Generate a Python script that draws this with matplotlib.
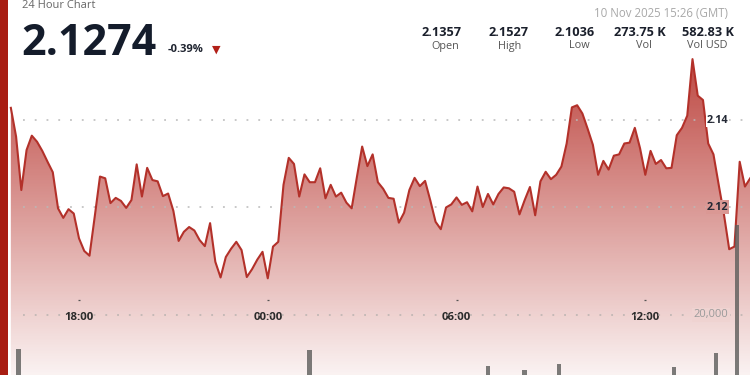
import matplotlib
matplotlib.use("Agg")
import matplotlib.pyplot as plt
import matplotlib.dates as mdates
import matplotlib.transforms as mtransforms
import numpy as np
import pandas as pd
from matplotlib.colors import LinearSegmentedColormap
from matplotlib.patches import Rectangle

plt.rcParams["font.family"] = ["Open Sans", "DejaVu Sans"]

# 10-minute closes, 9 Nov 15:50 -> 10 Nov 15:20 (GMT)
start = "2025-11-09 15:50"
prices = [
    2.1428, 2.1362, 2.1239, 2.1331, 2.1364, 2.1350, 2.1329, 2.1304, 2.1280, 2.1197,
    2.1175, 2.1195, 2.1185, 2.1128, 2.1099, 2.1088, 2.1178, 2.1270, 2.1266, 2.1209,
    2.1221, 2.1214, 2.1198, 2.1216, 2.1298, 2.1224, 2.1290, 2.1262, 2.1259, 2.1225,
    2.1231, 2.1191, 2.1122, 2.1143, 2.1154, 2.1146, 2.1124, 2.1110, 2.1163, 2.1074,
    2.1038, 2.1085, 2.1104, 2.1120, 2.1101, 2.1039, 2.1057, 2.1079, 2.1097, 2.1036,
    2.1109, 2.1120, 2.1251, 2.1313, 2.1299, 2.1224, 2.1275, 2.1257, 2.1257, 2.1289,
    2.1220, 2.1251, 2.1224, 2.1233, 2.1210, 2.1197, 2.1269, 2.1339, 2.1294, 2.1321,
    2.1257, 2.1242, 2.1221, 2.1219, 2.1164, 2.1187, 2.1239, 2.1267, 2.1248, 2.1260,
    2.1215, 2.1166, 2.1149, 2.1199, 2.1206, 2.1222, 2.1205, 2.1211, 2.1190, 2.1247,
    2.1200, 2.1230, 2.1206, 2.1230, 2.1245, 2.1243, 2.1235, 2.1183, 2.1216, 2.1246,
    2.1181, 2.1259, 2.1281, 2.1264, 2.1274, 2.1293, 2.1346, 2.1429, 2.1434, 2.1415,
    2.1380, 2.1343, 2.1274, 2.1306, 2.1286, 2.1318, 2.1321, 2.1346, 2.1348, 2.1382,
    2.1335, 2.1274, 2.1329, 2.1299, 2.1308, 2.1289, 2.1290, 2.1365, 2.1382, 2.1410,
    2.1540, 2.1456, 2.1446, 2.1346, 2.1321, 2.1251, 2.1183, 2.1103, 2.1109, 2.1304,
    2.1247, 2.1266,
]

vol_times = [
    "2025-11-09 16:05", "2025-11-10 01:20", "2025-11-10 07:00", "2025-11-10 08:10",
    "2025-11-10 09:15", "2025-11-10 12:55", "2025-11-10 14:15", "2025-11-10 14:55",
]
vol_values = [12000, 11800, 8000, 7000, 8500, 7700, 11000, 41200]

tick_times = ["2025-11-09 18:00", "2025-11-10 00:00", "2025-11-10 06:00", "2025-11-10 12:00"]
tick_labels = ["18:00", "00:00", "06:00", "12:00"]

price_ticks = [2.14, 2.12]
vol_tick = 20000

stats_values = ["2.1357", "2.1527", "2.1036", "273.75 K", "582.83 K"]
stats_labels = ["Open", "High", "Low", "Vol", "Vol USD"]

last_price = "2.1274"
change = "-0.39%"
stamp = "10 Nov 2025 15:26 (GMT)"

times = pd.date_range(start, periods=len(prices), freq="10min")
t = mdates.date2num(times.to_pydatetime())
vt = mdates.date2num(pd.to_datetime(vol_times).to_pydatetime())
tt = mdates.date2num(pd.to_datetime(tick_times).to_pydatetime())

line_red = "#b3312a"

fig = plt.figure(figsize=(7.5, 3.75), dpi=100)
fig.patch.set_facecolor("white")

ax = fig.add_axes([0, 0, 1, 1])
ax.set_facecolor("none")
x0 = mdates.date2num(pd.Timestamp("2025-11-09 15:29:20"))
x1 = mdates.date2num(pd.Timestamp("2025-11-10 15:19:40"))
ax.set_xlim(x0, x1)
ymin, ymax = 2.08138, 2.16759
ax.set_ylim(ymin, ymax)
ax.axis("off")

# gradient fill under the price line
fill = ax.fill_between(t, prices, ymin - 0.01, facecolor="none", edgecolor="none")
cmap = LinearSegmentedColormap.from_list(
    "fade", [(0.70, 0.16, 0.13, 0.06), (0.70, 0.16, 0.13, 0.85)]
)
grad = np.linspace(0, 1, 256).reshape(-1, 1)
img = ax.imshow(grad, cmap=cmap, origin="lower", aspect="auto",
                extent=[x0, x1, ymin, 2.154], zorder=1)
img.set_clip_path(fill.get_paths()[0], transform=ax.transData)
ax.set_xlim(x0, x1)
ax.set_ylim(ymin, ymax)

# volume on its own scale
axv = fig.add_axes([0, 0, 1, 1], sharex=ax)
axv.set_facecolor("none")
axv.axis("off")
axv.set_ylim(5882, 94118)
axv.bar(vt, vol_values, width=8.5 / 1440, color="#5c5c5a", alpha=0.8, zorder=2)
axv.axhline(vol_tick, xmin=0.03, color="#b9b2b0", lw=1.1,
            linestyle=(0, (1.2, 6.5)), zorder=1)
axv.text(0.971, vol_tick, f"{vol_tick:,}", transform=axv.get_yaxis_transform(),
         ha="right", va="center", fontsize=8, color="#9a9a9a",
         bbox=dict(boxstyle="square,pad=0.15", facecolor="#efd3d1", edgecolor="none"))

# price grid + labels
label_bg = ["white", "#da9894"]
for p, bg in zip(price_ticks, label_bg):
    ax.axhline(p, xmin=0.03, color="#b9b9b9", lw=1.1,
               linestyle=(0, (1.2, 6.5)), zorder=3)
    ax.text(0.971, p, f"{p:.2f}", transform=ax.get_yaxis_transform(),
            ha="right", va="center", fontsize=7.8, fontweight="bold",
            color="#232834", zorder=6,
            bbox=dict(boxstyle="square,pad=0.1", facecolor=bg, edgecolor="none"))

ax.plot(t, prices, color=line_red, lw=1.5, zorder=5, solid_joinstyle="round")

# time axis labels
trans = mtransforms.blended_transform_factory(ax.transData, ax.transAxes)
for x, lab in zip(tt, tick_labels):
    ax.text(x, 0.152, lab, transform=trans, ha="center", va="center",
            fontsize=8.2, fontweight="bold", color="#2a2a2a", zorder=6)
ax.plot(tt, [0.2] * len(tt), transform=trans, linestyle="none",
        marker="_", markersize=1.6, markeredgewidth=0.9, color="#555555", zorder=6)

# left accent bar
fig.add_artist(Rectangle((0, 0), 8 / 750, 1, transform=fig.transFigure,
                         facecolor="#a81d12", edgecolor="none", zorder=10))

# header
def fy(y):
    return 1 - y / 375

fig.text(22.5 / 750, fy(8.3), "24 Hour Chart", fontsize=8, color="#666666",
         va="baseline")
fig.text(21 / 750, fy(55), last_price, fontsize=31, fontweight="bold",
         color="#141c2b", va="baseline")
fig.text(168 / 750, fy(51.7), change, fontsize=8, fontweight="bold",
         color="#1f2430", va="baseline")
fig.text(212 / 750, fy(52.5), "\u25bc", fontsize=8, color="#b22018",
         va="baseline", family="DejaVu Sans")
fig.text(728 / 750, fy(17.3), stamp, fontsize=8.3, color="#a8a8a8",
         ha="right", va="baseline")

val_x = [441.7, 508.3, 574.5, 640, 707.5]
lab_x = [445, 510, 579.5, 644, 707.6]
for vx, lx, v, lab in zip(val_x, lab_x, stats_values, stats_labels):
    fig.text(vx / 750, fy(35.7), v, fontsize=9.2, fontweight="bold",
             color="#1a1f2b", ha="center", va="baseline")
    fig.text(lx / 750, fy(48.5), lab, fontsize=7.8, color="#555555",
             ha="center", va="baseline")

fig.savefig("out.png", dpi=100)
